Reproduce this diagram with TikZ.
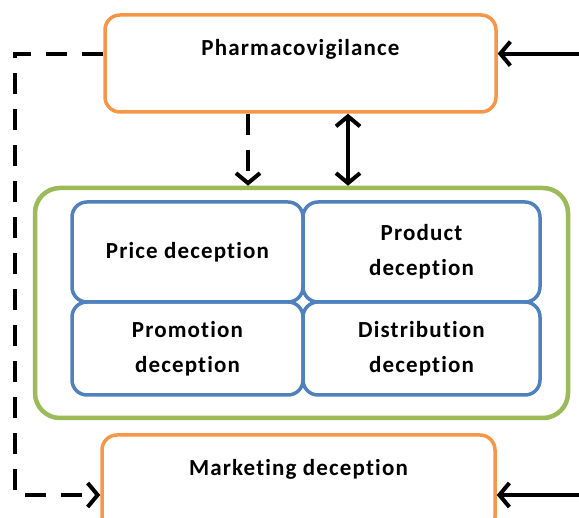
\documentclass[tikz,border=0pt]{standalone}
\usepackage{fontspec}
\setmainfont{Carlito}
\newfontfamily\labelfont[LetterSpace=5,Ligatures=NoCommon]{Carlito}
\usetikzlibrary{arrows.meta}
\definecolor{boxorange}{HTML}{F79646}
\definecolor{mixgreen}{HTML}{9BBB59}
\definecolor{partblue}{HTML}{4F81BD}
\begin{document}
\begin{tikzpicture}[x=1pt, y=-1pt,
  font=\labelfont\fontsize{23}{35}\selectfont\bfseries,
  outer/.style={draw=boxorange, line width=3.5pt, rounded corners=15pt, text height=41pt, text depth=56pt, inner ysep=0pt},
  part/.style={draw=partblue, line width=3.5pt, rounded corners=15pt, align=center, inner sep=0pt},
  link/.style={line width=4pt, -{Straight Barb[length=10pt,width=24pt]}},
  linkdash/.style={link, dash pattern=on 21pt off 15pt}]
\clip (0,0) rectangle (579,518);
\node[outer, minimum width=391pt] (pv) at (300.5,63.5) {Pharmacovigilance};
\node[outer, minimum width=393pt] (mkt) at (298.5,483.5) {Marketing deception};
\node[draw=mixgreen, line width=4.5pt, rounded corners=25pt, minimum width=533pt, minimum height=230pt] (mix) at (301.5,303) {};
\node[part, minimum width=231pt, minimum height=100pt] (price) at (187.5,252) {Price deception};
\node[part, minimum width=237pt, minimum height=100pt] (product) at (421.5,252) {Product\\deception};
\node[part, minimum width=231pt, minimum height=93pt] (promo) at (187.5,348.5) {Promotion\\deception};
\node[part, minimum width=237pt, minimum height=93pt] (place) at (421.5,348.5) {Distribution\\deception};
\coordinate (side) at (15,0);
\coordinate (feedin) at (579,0);
\coordinate (dv) at (248,150);
\coordinate (bv) at (348,150);
\coordinate (mktline) at ([yshift=-11.5pt]mkt.west);
\draw[linkdash] (pv.mid west) -- (pv.mid west -| side) -- (mktline -| side) -- (mktline);
\draw[link] (pv.mid east -| feedin) -- (pv.mid east);
\draw[link] ([yshift=-11.5pt]mkt.east -| feedin) -- ([yshift=-11.5pt]mkt.east);
\draw[linkdash] (pv.south -| dv) -- (mix.north -| dv);
\draw[link, {Straight Barb[length=10pt,width=24pt]}-{Straight Barb[length=10pt,width=24pt]}] (pv.south -| bv) -- (mix.north -| bv);
\end{tikzpicture}
\end{document}
